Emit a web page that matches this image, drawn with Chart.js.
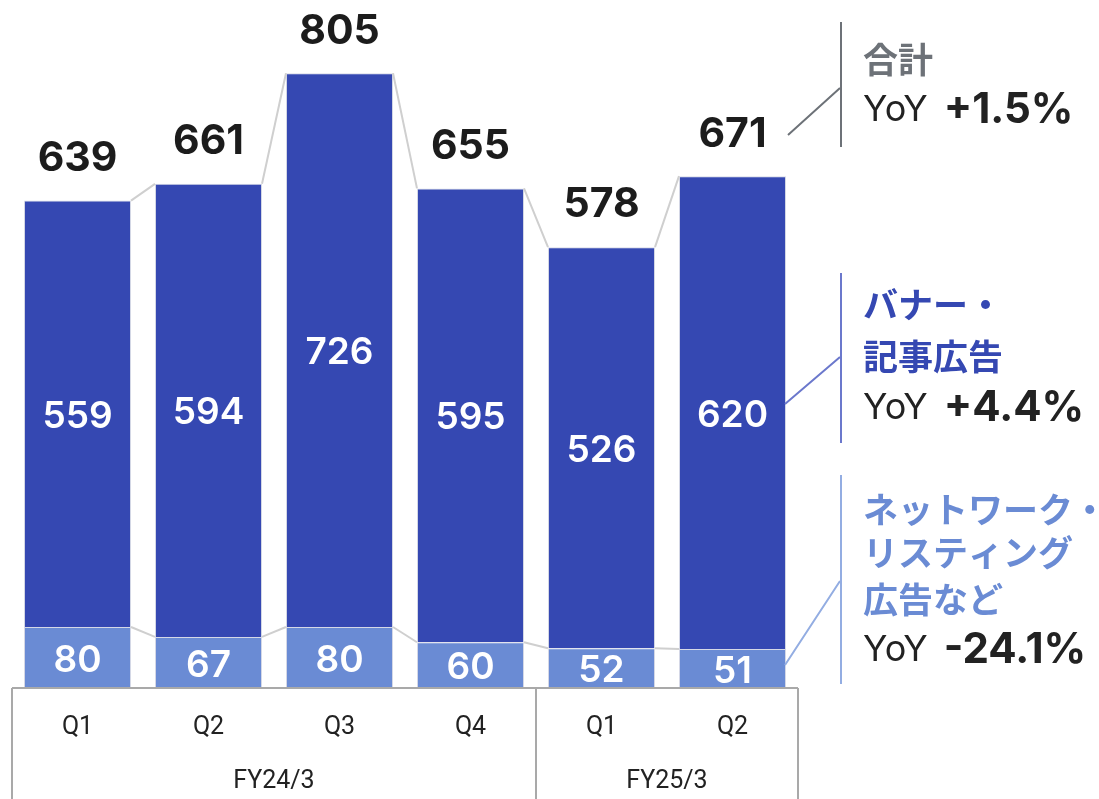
<!DOCTYPE html>
<html lang="ja">
<head>
<meta charset="UTF-8" />
<title>広告売上推移</title>
<script src="https://cdn.jsdelivr.net/npm/chart.js"></script>
<style>
  body { margin: 0; background: #fff; }
  #wrap { width: 1099px; height: 799px; position: relative; }
</style>
</head>
<body>
<div id="wrap"><canvas id="adChart"></canvas></div>
<script>
  // data
  const quarters = ["Q1", "Q2", "Q3", "Q4", "Q1", "Q2"];
  const fiscalYears = ["FY24/3", "FY25/3"];
  const fySpans = [4, 2];
  const networkAds = [80, 67, 80, 60, 52, 51];
  const bannerAds = [559, 594, 726, 595, 526, 620];
  const totals = [639, 661, 805, 655, 578, 671];

  const DARK = "#3548b2";
  const LIGHT = "#6a8bd4";
  const JP = "'Noto Sans CJK JP', 'Noto Sans', sans-serif";

  // bar labels, connector lines, category table, right-hand notes
  const decor = {
    id: "decor",
    afterDatasetsDraw(chart) {
      const ctx = chart.ctx;
      const bottom = chart.getDatasetMeta(0).data;
      const top = chart.getDatasetMeta(1).data;
      const area = chart.chartArea;

      // connector lines between neighbouring bars
      ctx.save();
      ctx.strokeStyle = "#cfcfcf";
      ctx.lineWidth = 2;
      [bottom, top].forEach(bars => {
        for (let i = 0; i < bars.length - 1; i++) {
          const a = bars[i], b = bars[i + 1];
          ctx.beginPath();
          ctx.moveTo(a.x + a.width / 2, a.y);
          ctx.lineTo(b.x - b.width / 2, b.y);
          ctx.stroke();
        }
      });
      ctx.restore();

      // values inside the bars and totals above
      ctx.save();
      ctx.textAlign = "center";
      ctx.textBaseline = "middle";
      ctx.fillStyle = "#fff";
      ctx.font = "600 37px Inter, sans-serif";
      bottom.forEach((el, i) => ctx.fillText(networkAds[i], el.x, (el.y + el.base) / 2 + 3));
      top.forEach((el, i) => ctx.fillText(bannerAds[i], el.x, (el.y + el.base) / 2 + 3));
      ctx.fillStyle = "#1c1c1c";
      ctx.font = "bold 41px Inter, sans-serif";
      top.forEach((el, i) => ctx.fillText(totals[i], el.x, el.y - 42));
      ctx.restore();

      // category table under the bars
      const xs = chart.scales.x;
      const step = xs.getPixelForValue(1) - xs.getPixelForValue(0);
      const y0 = area.bottom;
      ctx.save();
      ctx.strokeStyle = "#a9a9a9";
      ctx.lineWidth = 2;
      ctx.beginPath();
      ctx.moveTo(area.left, y0);
      ctx.lineTo(area.right, y0);
      let edge = area.left;
      ctx.moveTo(edge, y0);
      ctx.lineTo(edge, chart.height);
      fySpans.forEach(n => {
        edge += n * step;
        ctx.moveTo(edge, y0);
        ctx.lineTo(edge, chart.height);
      });
      ctx.stroke();

      ctx.fillStyle = "#222";
      ctx.textAlign = "center";
      ctx.textBaseline = "middle";
      ctx.font = "25px Roboto, sans-serif";
      quarters.forEach((q, i) => ctx.fillText(q, xs.getPixelForValue(i), y0 + 40));
      let start = 0;
      fiscalYears.forEach((fy, k) => {
        const mid = (xs.getPixelForValue(start) + xs.getPixelForValue(start + fySpans[k] - 1)) / 2;
        ctx.fillText(fy, mid, y0 + 94);
        start += fySpans[k];
      });
      ctx.restore();

      // right-hand notes
      const notes = [
        { color: "#6d7278", bar: [22, 147], from: [788, 135], to: [840, 88],
          lines: ["合計"], lineY: [60], yoy: "+1.5%", yoyY: 110 },
        { color: "#6b78cc", textColor: DARK, bar: [273, 443], from: [785, 404], to: [840, 357],
          lines: ["バナー・", "記事広告"], lineY: [305, 357], yoy: "+4.4%", yoyY: 408 },
        { color: "#93ade2", textColor: LIGHT, bar: [475, 684], from: [785, 665], to: [840, 581],
          lines: ["ネットワーク・", "リスティング", "広告など"], lineY: [510, 553, 600], yoy: "-24.1%", yoyY: 650 }
      ];
      ctx.save();
      ctx.lineWidth = 2;
      ctx.textBaseline = "middle";
      ctx.textAlign = "left";
      notes.forEach(n => {
        ctx.strokeStyle = n.color;
        ctx.beginPath();
        ctx.moveTo(841, n.bar[0]);
        ctx.lineTo(841, n.bar[1]);
        ctx.moveTo(n.from[0], n.from[1]);
        ctx.lineTo(n.to[0], n.to[1]);
        ctx.stroke();
        ctx.fillStyle = n.textColor || n.color;
        ctx.font = "bold 35px " + JP;
        n.lines.forEach((t, i) => ctx.fillText(t, 863, n.lineY[i]));
        ctx.fillStyle = "#222";
        ctx.font = "36px Inter, sans-serif";
        ctx.fillText("YoY", 863, n.yoyY);
        const w = ctx.measureText("YoY").width;
        ctx.font = "bold 42px Inter, sans-serif";
        ctx.fillText(n.yoy, 863 + w + 16, n.yoyY);
      });
      ctx.restore();
    }
  };

  new Chart(document.getElementById("adChart"), {
    type: "bar",
    data: {
      labels: quarters,
      datasets: [
        { label: "ネットワーク・リスティング広告など", data: networkAds, backgroundColor: LIGHT,
          borderColor: "#d6d9e6", borderWidth: 1 },
        { label: "バナー・記事広告", data: bannerAds, backgroundColor: DARK,
          borderColor: "#d6d9e6", borderWidth: 1 }
      ]
    },
    options: {
      responsive: true,
      maintainAspectRatio: false,
      animation: false,
      categoryPercentage: 1,
      barPercentage: 0.817,
      layout: { padding: { left: 12, right: 301, top: 0, bottom: 111 } },
      plugins: { legend: { display: false }, tooltip: { enabled: false } },
      scales: {
        x: { stacked: true, display: false },
        y: { stacked: true, display: false, min: 0, max: 902 }
      }
    },
    plugins: [decor]
  });
</script>
</body>
</html>
